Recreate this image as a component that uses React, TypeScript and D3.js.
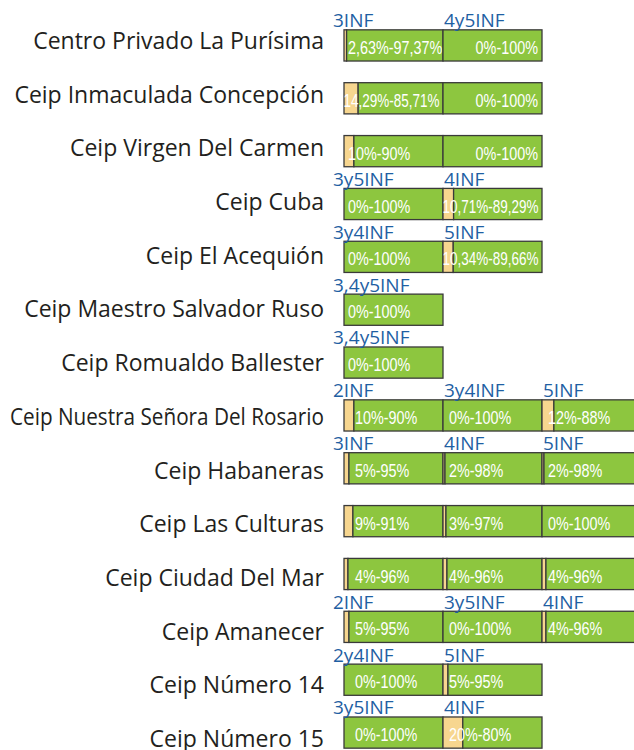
import React, { useEffect, useRef } from "react";
import * as d3 from "d3";

// schools (one row each)
const schools = [
  "Centro Privado La Purísima",
  "Ceip Inmaculada Concepción",
  "Ceip Virgen Del Carmen",
  "Ceip Cuba",
  "Ceip El Acequión",
  "Ceip Maestro Salvador Ruso",
  "Ceip Romualdo Ballester",
  "Ceip Nuestra Señora Del Rosario",
  "Ceip Habaneras",
  "Ceip Las Culturas",
  "Ceip Ciudad Del Mar",
  "Ceip Amanecer",
  "Ceip Número 14",
  "Ceip Número 15",
];

// course groups per school ("" = no label shown)
const groupNames = [
  ["3INF", "4y5INF"],
  ["", ""],
  ["", ""],
  ["3y5INF", "4INF"],
  ["3y4INF", "5INF"],
  ["3,4y5INF"],
  ["3,4y5INF"],
  ["2INF", "3y4INF", "5INF"],
  ["3INF", "4INF", "5INF"],
  ["", "", ""],
  ["", "", ""],
  ["2INF", "3y5INF", "4INF"],
  ["2y4INF", "5INF"],
  ["3y5INF", "4INF"],
];

// first part of the 100% bar (beige)
const firstPct = [
  [2.63, 0],
  [14.29, 0],
  [10, 0],
  [0, 10.71],
  [0, 10.34],
  [0],
  [0],
  [10, 0, 12],
  [5, 2, 2],
  [9, 3, 0],
  [4, 4, 4],
  [5, 0, 4],
  [0, 5],
  [0, 20],
];

// second part (green)
const secondPct = [
  [97.37, 100],
  [85.71, 100],
  [90, 100],
  [100, 89.29],
  [100, 89.66],
  [100],
  [100],
  [90, 100, 88],
  [95, 98, 98],
  [91, 97, 100],
  [96, 96, 96],
  [95, 100, 96],
  [100, 95],
  [100, 80],
];

// where the value label sits inside each group
const labelAlign = [
  ["start", "end"],
  ["middle", "end"],
  ["start", "end"],
  ["start", "middle"],
  ["start", "middle"],
  ["start"],
  ["start"],
  ["inset", "inset", "inset"],
  ["inset", "inset", "inset"],
  ["inset", "inset", "inset"],
  ["inset", "inset", "inset"],
  ["inset", "inset", "inset"],
  ["inset", "inset"],
  ["inset", "inset"],
];

const fmt = (v: number) =>
  Number.isInteger(v) ? String(v) : v.toFixed(2).replace(".", ",");

export default function App() {
  const ref = useRef<SVGSVGElement>(null);

  useEffect(() => {
    const svg = d3.select(ref.current);
    svg.selectAll("*").remove();

    var x = d3.scaleLinear().domain([0, 300]).range([344, 641]);
    var y = d3
      .scaleBand()
      .domain(schools)
      .range([19, 759])
      .paddingInner(0.41)
      .paddingOuter(0.205);
    // row titles sit on their own slightly wider spacing
    var yLabel = d3.scalePoint().domain(schools).range([49, 747]);

    // row titles, squeezed if they would run past the left edge
    svg
      .append("g")
      .selectAll("text")
      .data(schools)
      .join("text")
      .attr("x", 324)
      .attr("y", (d) => yLabel(d) as number)
      .attr("text-anchor", "end")
      .style("font-family", "'Open Sans', sans-serif")
      .style("font-size", "23px")
      .style("fill", "#231F20")
      .text((d) => d)
      .each(function () {
        const len = (this as SVGTextElement).getComputedTextLength();
        if (len > 314) {
          d3.select(this)
            .attr("textLength", 314)
            .attr("lengthAdjust", "spacingAndGlyphs");
        }
      });

    schools.forEach((school, i) => {
      const top = y(school) as number;
      const bh = y.bandwidth();
      const row = svg.append("g");

      firstPct[i].forEach((a, j) => {
        const b = secondPct[i][j];
        const x0 = x(j * 100);
        const x1 = x(j * 100 + a);
        const x2 = x(j * 100 + a + b);

        if (a > 0) {
          row
            .append("rect")
            .attr("x", x0)
            .attr("y", top)
            .attr("width", x1 - x0)
            .attr("height", bh)
            .attr("fill", "#F7D68F")
            .attr("stroke", "#3a3a3a")
            .attr("stroke-width", 1.3);
        }
        row
          .append("rect")
          .attr("x", x1)
          .attr("y", top)
          .attr("width", x2 - x1)
          .attr("height", bh)
          .attr("fill", "#8DC63F")
          .attr("stroke", "#3a3a3a")
          .attr("stroke-width", 1.3);

        // value label
        const al = labelAlign[i][j];
        let lx = x0 + 4;
        let anchor = "start";
        if (al === "inset") lx = j === 0 ? x0 + 11 : x0 + 6;
        if (al === "middle") {
          lx = (x0 + x2) / 2 - 2;
          anchor = "middle";
        }
        if (al === "end") {
          lx = x2 - 4;
          anchor = "end";
        }
        const t = row
          .append("text")
          .attr("transform", `translate(${lx},${top + bh - 7}) scale(0.8,1)`)
          .attr("text-anchor", anchor)
          .style("font-family", "'Liberation Sans', sans-serif")
          .style("font-size", "18px")
          .style("fill", "#fff")
          .text(`${fmt(a)}%-${fmt(b)}%`);
        // long labels: keep them about the group's width
        const maxLen = 96 / 0.8;
        if ((t.node() as SVGTextElement).getComputedTextLength() > maxLen) {
          t.attr("textLength", maxLen).attr("lengthAdjust", "spacingAndGlyphs");
        }

        // group name above the bar
        const name = groupNames[i][j];
        if (name) {
          row
            .append("text")
            .attr("x", j === 0 ? x0 - 11 : x0 + 1)
            .attr("y", top - 2.5)
            .style("font-family", "'Open Sans', sans-serif")
            .style("font-size", "19px")
            .style("fill", "#1F5FA3")
            .text(name);
        }
      });
    });
  }, []);

  return (
    <svg
      ref={ref}
      width={634}
      height={750}
      style={{ position: "absolute", left: 0, top: 0, background: "#fff" }}
    />
  );
}
